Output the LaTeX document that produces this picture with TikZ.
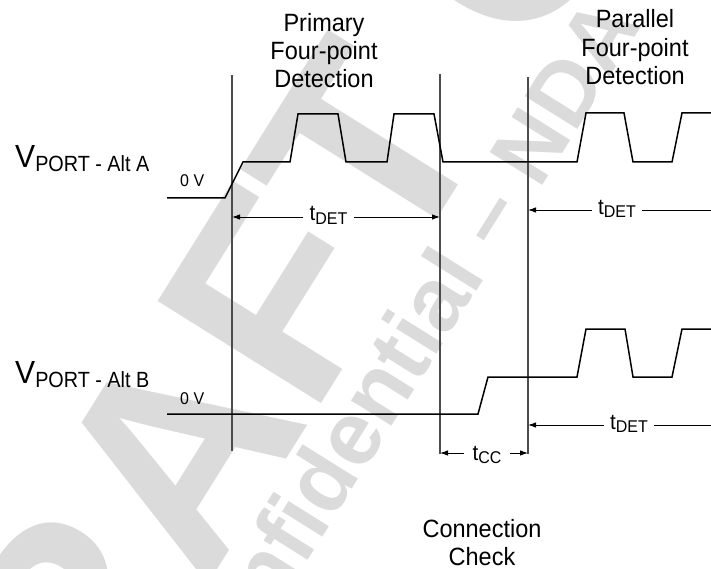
\documentclass[tikz,border=0pt]{standalone}
\usepackage{fontspec}
\setmainfont{Liberation Sans}[FakeStretch=0.94]
\newfontfamily\narrowfont{Liberation Sans}[FakeStretch=0.9]
\newfontfamily\wmfont{Liberation Sans Bold}
\usetikzlibrary{arrows.meta}
\newcommand\fsz[1]{\fontsize{#1}{#1}\selectfont}
\newcommand\tsub[1]{{\fsz{22}t}\raisebox{-3pt}{\fsz{17}#1}}
\begin{document}
\begin{tikzpicture}[x=1pt,y=-1pt,
  sig/.style={line width=1.5pt, line join=miter},
  vline/.style={line width=1.1pt, draw=black!70},
  dimline/.style={line width=0.9pt},
  dim/.style={line width=0.9pt, -{Latex[length=8pt,width=5.5pt]}},
  lbl/.style={inner sep=0pt, font=\fsz{25}, anchor=base},
  tlbl/.style={inner xsep=6pt, inner ysep=0pt, anchor=base},
  wm/.style={text=black!14, inner sep=0pt, anchor=base west, rotate=58}]
\useasboundingbox (0,0) rectangle (711,569);
% watermark
\node[wm, font=\wmfont\fsz{280}] (wm1) at (-10,934) {DRAFT COPY};
\node[wm, font=\wmfont\fsz{90}] (wm2) at (211,716) {Confidential \textendash{} NDA Required};
% vertical markers
\coordinate (l1t) at (232,75);  \coordinate (l1b) at (232,451);
\coordinate (l2t) at (440,74);  \coordinate (l2b) at (440,454);
\coordinate (l3t) at (528,77);  \coordinate (l3b) at (528,454);
\coordinate (redge) at (711,0);
\draw[vline] (l1t) -- (l1b);
\draw[vline] (l2t) -- (l2b);
\draw[vline] (l3t) -- (l3b);
% signal A
\draw[sig] (167,198) -- (225,198) -- (243,162) -- (290,162) -- (298,114) -- (338,114) -- (346,162)
  -- (387,162) -- (394,114) -- (434,114) -- (443,162) -- (577,162) -- (586,113) -- (624,113)
  -- (633,162) -- (672,162) -- (682,113) -- (715,113);
% signal B
\draw[sig] (167,414) -- (478,414) -- (488,377) -- (577,377) -- (586,329) -- (625,329)
  -- (633,377) -- (672,377) -- (682,329) -- (715,329);
% headings
\node[lbl] (p1) at (324,32) {Primary};
\node[lbl] (p2) at (324,60) {Four-point};
\node[lbl] (p3) at (324,88) {Detection};
\node[lbl] (q1) at (635,28) {Parallel};
\node[lbl] (q2) at (635,56.5) {Four-point};
\node[lbl] (q3) at (635,85) {Detection};
\node[lbl] (c1) at (482,537) {Connection};
\node[lbl] (c2) at (482,565) {Check};
% signal names
\node[inner sep=0pt, anchor=base west] (va) at (15,168) {\fsz{32}V\raisebox{-4pt}{\narrowfont\fsz{22}PORT - Alt A}};
\node[inner sep=0pt, anchor=base west] (vb) at (15,383) {\fsz{32}V\raisebox{-4pt}{\narrowfont\fsz{22}PORT - Alt B}};
\node[inner sep=0pt, anchor=base west, font=\fsz{17}] (za) at (180,187) {0 V};
\node[inner sep=0pt, anchor=base west, font=\fsz{17}] (zb) at (180,404) {0 V};
% timing labels
\coordinate (ya1) at (0,217);
\coordinate (ya2) at (0,210);
\coordinate (yb) at (0,425);
\coordinate (ycc) at (0,453);
\node[tlbl] (ta1) at (328.5,221) {\tsub{DET}};
\node[tlbl] (ta2) at (617,214.5) {\tsub{DET}};
\node[tlbl] (tb) at (629,429.5) {\tsub{DET}};
\node[tlbl, inner xsep=8pt] (tcc) at (487,460) {\tsub{CC}};
\draw[dim] (ta1.west |- ya1) -- (l1t |- ya1);
\draw[dim] (ta1.east |- ya1) -- (l2t |- ya1);
\draw[dim] (ta2.west |- ya2) -- (l3t |- ya2);
\draw[dimline] (ta2.east |- ya2) -- (redge |- ya2);
\draw[dim] (tb.west |- yb) -- (l3t |- yb);
\draw[dimline] (tb.east |- yb) -- (redge |- yb);
\draw[dim] (tcc.west |- ycc) -- (l2t |- ycc);
\draw[dim] (tcc.east |- ycc) -- (l3t |- ycc);
\end{tikzpicture}
\end{document}
